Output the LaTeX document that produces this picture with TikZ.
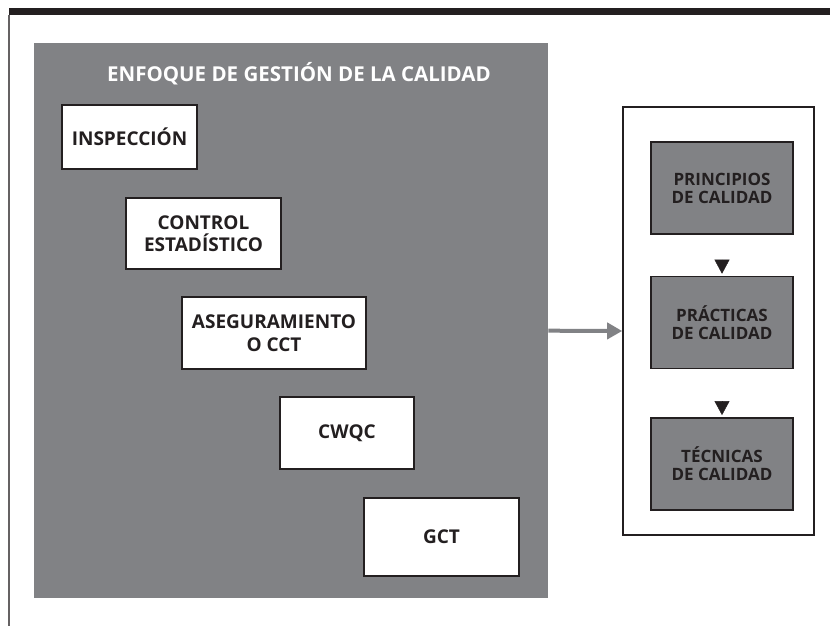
\documentclass[tikz,border=0pt]{standalone}
\usepackage{fontspec}
\setmainfont{Open Sans}
\usetikzlibrary{arrows.meta, positioning}
\definecolor{panelgray}{HTML}{818285}
\definecolor{inkdark}{HTML}{231F20}
\tikzset{
  stage/.style = {rectangle, draw=inkdark, line width=1.6pt, fill=white, text=inkdark, align=center, font=\fontsize{19}{22.5}\selectfont\bfseries, inner sep=2pt},
  pillar/.style = {rectangle, draw=inkdark, line width=1.4pt, fill=panelgray, text=inkdark, align=center, minimum width=142pt, minimum height=92pt, font=\fontsize{17}{18}\selectfont\bfseries},
  flow/.style = {draw=panelgray, line width=4pt, -{Triangle[length=15pt,width=16pt]}},
  drop/.style = {draw=inkdark, -{Triangle[length=14pt,width=15pt]}}
}

\begin{document}
\begin{tikzpicture}[x=1pt, y=-1pt]
  \useasboundingbox (0,0) rectangle (830,626);

  % Page frame
  \fill[inkdark] (9,8) rectangle (830,15);
  \draw[line width=2pt, inkdark!70] (9,15) -- (9,626);

  % Gray panel with the stages
  \node (panel) [rectangle, fill=panelgray, minimum width=514pt, minimum height=555pt, inner sep=0pt, anchor=north west] at (34,43) {};
  \node (title) [text=white, font=\fontsize{20.5}{24}\selectfont\bfseries] at (299,74) {ENFOQUE DE GESTIÓN DE LA CALIDAD};

  \node (insp) [stage, minimum width=135pt, minimum height=64pt] at (129.5,137) {INSPECCIÓN};
  \node (ctrl) [stage, minimum width=155pt, minimum height=71pt] at (203.5,233.5) {CONTROL\\ESTADÍSTICO};
  \node (aseg) [stage, minimum width=184pt, minimum height=72pt] at (274,333) {ASEGURAMIENTO\\O CCT};
  \node (cwqc) [stage, minimum width=134pt, minimum height=72pt] at (347,433) {CWQC};
  \node (gct) [stage, minimum width=155pt, minimum height=78pt] at (441.5,537) {GCT};

  % Right frame
  \node (marco) [rectangle, draw=inkdark, line width=1.6pt, minimum width=191pt, minimum height=428pt] at (718.5,321) {};
  \node (prin) [pillar] at (722,188) {PRINCIPIOS\\DE CALIDAD};
  \node (prac) [pillar, below=41pt of prin] {PRÁCTICAS\\DE CALIDAD};
  \node (tec) [pillar, below=48pt of prac] {TÉCNICAS\\DE CALIDAD};

  % Connections
  \draw[flow] ([yshift=-10pt]panel.east) -- ([yshift=-10pt]marco.west);
  \draw[drop, shorten <=25pt, shorten >=2pt] (prin) -- (prac);
  \draw[drop, shorten <=33pt, shorten >=2pt] (prac) -- (tec);

\end{tikzpicture}
\end{document}
